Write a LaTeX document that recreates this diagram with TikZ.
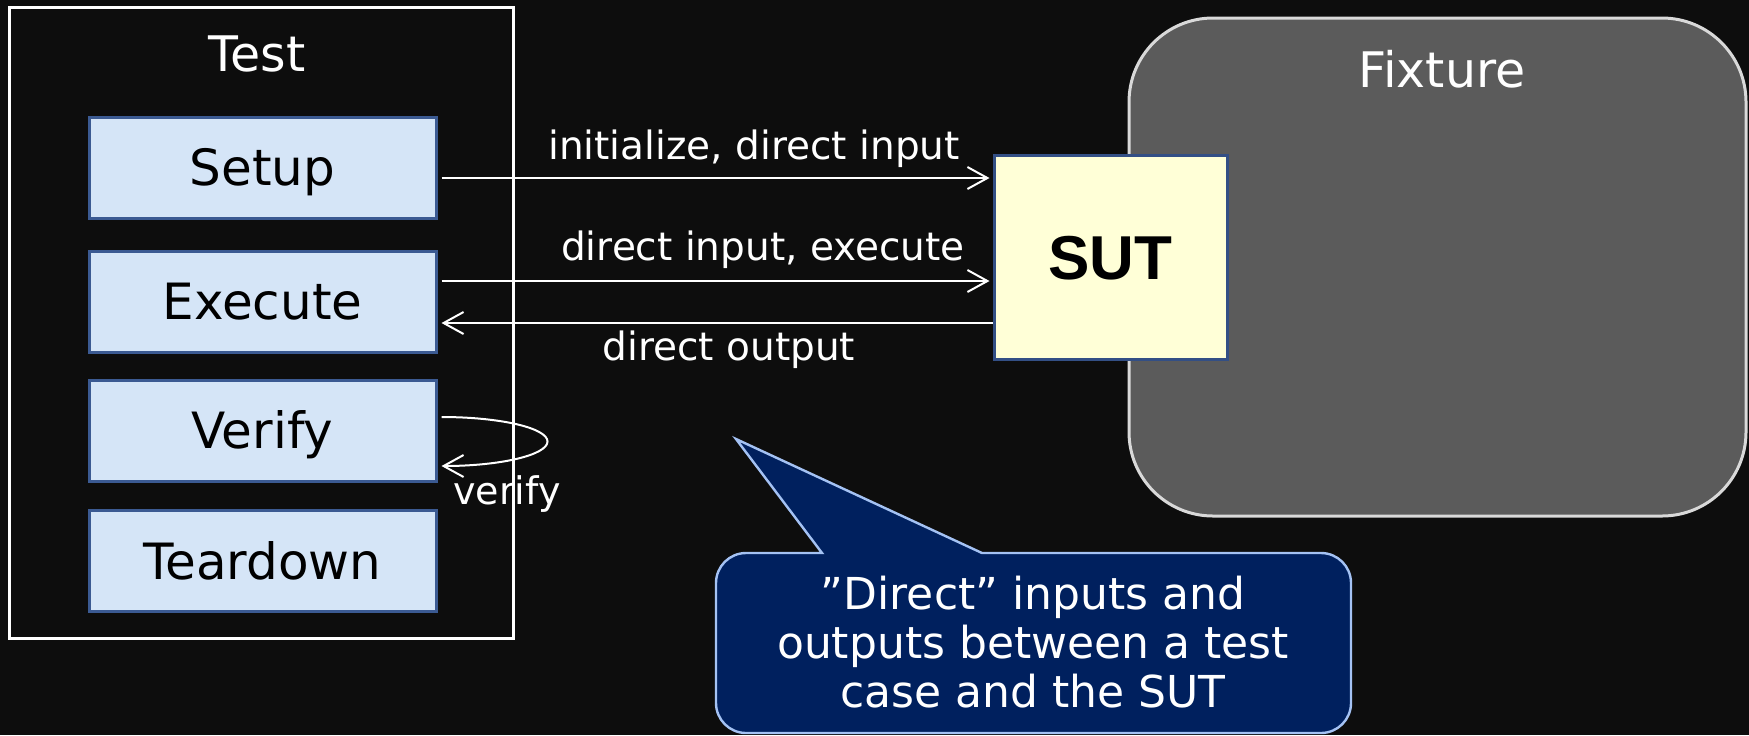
\documentclass[tikz,border=0pt]{standalone}
\usepackage{fontspec}
\setmainfont{DejaVu Sans}
\newfontfamily\sutfont{Liberation Sans}
\usetikzlibrary{arrows.meta,calc}
\definecolor{bg}{HTML}{0D0D0D}
\definecolor{stepfill}{HTML}{D5E5F7}
\definecolor{stepborder}{HTML}{3B5A92}
\definecolor{sutfill}{HTML}{FFFFD7}
\definecolor{sutborder}{HTML}{334F85}
\definecolor{fixfill}{HTML}{5B5B5B}
\definecolor{fixborder}{HTML}{D9D9D9}
\definecolor{callfill}{HTML}{00205E}
\definecolor{callborder}{HTML}{A4C2F4}
\begin{document}
\begin{tikzpicture}[x=0.5pt,y=-0.5pt,
  stepbox/.style={draw=stepborder, line width=1.5pt, fill=stepfill,
    minimum width=173.5pt, minimum height=50.5pt, inner sep=0pt,
    font=\fontsize{25}{30}\selectfont, text=black, text height=18.25pt, text depth=0pt},
  testbox/.style={draw=white, line width=1.5pt, fill=bg,
    minimum width=252pt, minimum height=315.5pt, inner sep=0pt},
  fixturebox/.style={draw=fixborder, line width=1.5pt, fill=fixfill, rounded corners=42pt,
    minimum width=308.5pt, minimum height=249pt, inner sep=0pt},
  sutbox/.style={draw=sutborder, line width=1.5pt, fill=sutfill,
    minimum width=116.5pt, minimum height=102pt, inner sep=0pt,
    font=\sutfont\bfseries\fontsize{31}{36}\selectfont, text=black, text height=22.2pt, text depth=0pt},
  title/.style={anchor=base, text=white, font=\fontsize{24.5}{29}\selectfont, inner sep=0pt},
  lbl/.style={anchor=base, text=white, font=\fontsize{19.5}{23}\selectfont, inner sep=0pt},
  arr/.style={draw=white, line width=1pt, -{Straight Barb[length=10pt,width=11pt]}},
  calloutshape/.style={draw=callborder, line width=1.2pt, fill=callfill},
  callouttext/.style={text=white, align=center, font=\fontsize{22}{24.3}\selectfont, inner sep=0pt}
]
\fill[bg] (0,0) rectangle (1749,735);
\useasboundingbox (0,0) rectangle (1749,735);

% Fixture
\node[fixturebox] (fixture) at (1437.5,267) {};
\node[title] (fixturelabel) at (1442,87) {Fixture};

% Test container
\node[testbox] (test) at (261,322.5) {};
\node[title] (testtitle) at (257,71) {Test};

% Steps
\node[stepbox] (setup) at (262.5,167.5) {Setup};
\node[stepbox] (execute) at (262.5,301.5) {Execute};
\node[stepbox] (verify) at (262.5,430.5) {Verify};
\node[stepbox] (teardown) at (262.5,561) {Teardown};

% SUT
\node[sutbox] (sut) at (1110.5,257) {SUT};

% Arrows
\draw[arr, shorten >=1.5pt] ($(setup.east)+(4,10.5)$) coordinate (s1) -- (s1 -| sut.west);
\draw[arr, shorten >=1.5pt] ($(execute.east)+(4,-20.5)$) coordinate (s2) -- (s2 -| sut.west);
\coordinate (s3) at ($(execute.east)+(4,21.5)$);
\draw[arr] (s3 -| sut.west) -- (s3);
\draw[arr] ($(verify.east)+(4,-13.5)$) arc[start angle=-90, end angle=90, x radius=106, y radius=24.5];

% Labels
\node[lbl] (l1) at (754,159) {initialize, direct input};
\node[lbl] (l2) at (763,260) {direct input, execute};
\node[lbl] (l3) at (729,360) {direct output};
\node[lbl, font=\fontsize{19}{23}\selectfont] (l4) at (507,504) {verify};

% Callout
\draw[calloutshape] (736,439) -- (982,553)
  {[rounded corners=15pt] -- (1351,553) -- (1351,733) -- (716,733) -- (716,553)} -- (822,553) -- cycle;
\node[callouttext] (callout) at (1033,642) {”Direct” inputs and\\outputs between a test\\case and the SUT};
\end{tikzpicture}
\end{document}
